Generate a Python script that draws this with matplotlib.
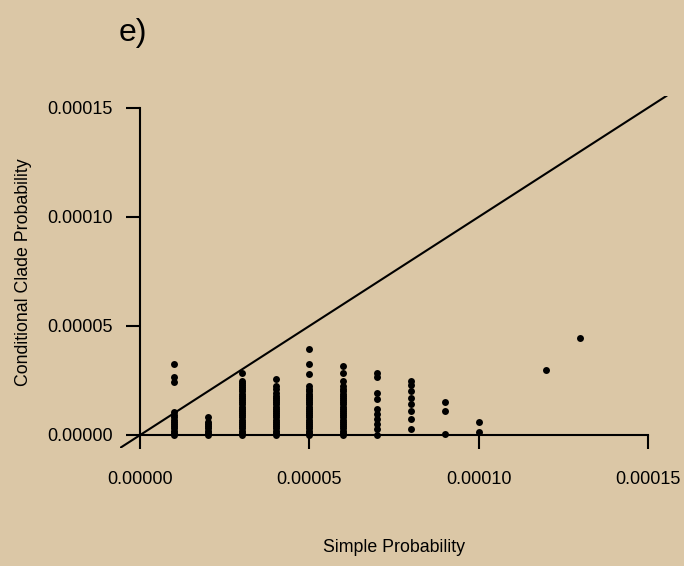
import matplotlib
matplotlib.use("Agg")
import matplotlib.pyplot as plt
from matplotlib.ticker import FixedLocator, FuncFormatter

plt.rcParams['font.family'] = ['Liberation Sans', 'DejaVu Sans']

# Data: simple probability (x) vs conditional clade probability (y), values in units of 1e-6
x_1 = [0,1,2,3,4,5,6,7,8,9,10.5,24.3,26.8,32.4]
x_2 = [0,1,2,3,4,5,6,8]
x_3 = [0,1,2,3,4,5,6,7,8,9,10,11,12,13,14,15,16,17,18,19,20,21,22,23,24,24.8,28.3]
x_4 = [0,1,2,3,4,5,6,7,8,9,10,11,12,13,14,15,16,17,18,19.4,21,22.5,25.6]
x_5 = [0,1,2,3,4,5,6,7,8,9,10,11,12,13,14,15,16,17,18,19,20,21,22.5,27.8,32.4,39.6]
x_6 = [0,1,2,3,4,5,6,7,8,9,10,11,12,13,14,15,16,17,18,19,20,21,22.5,24.8,28.6,31.7]
x_7 = [0,2.6,4.9,7.2,9.5,11.8,16.4,19.4,26.8,28.2]
x_8 = [2.6,7.2,11,14.4,17.1,20,22.8,24.8]
x_9 = [0.6,11,15.1]
x_10 = [1.5,6.1]
x_12 = [29.8]
x_13 = [44.6]

simple_prob = [1, 2, 3, 4, 5, 6, 7, 8, 9, 10, 12, 13]   # units of 1e-5
cond_prob = [x_1, x_2, x_3, x_4, x_5, x_6, x_7, x_8, x_9, x_10, x_12, x_13]

xticks = [0, 0.00005, 0.00010, 0.00015]
yticks = [0, 0.00005, 0.00010, 0.00015]

W, H = 684, 566
fig = plt.figure(figsize=(W/100, H/100), dpi=100)
bg = '#dbc7a6'
fig.patch.set_facecolor(bg)
ax = fig.add_axes([120/W, 1-448/H, 548/W, 352/H])
ax.set_facecolor('none')

xs, ys = [], []
for sp, vals in zip(simple_prob, cond_prob):
    for v in vals:
        xs.append(sp*1e-5)
        ys.append(v*1e-6)
ax.scatter(xs, ys, s=25, color='black', linewidths=0, zorder=3)

ax.axline((0, 0), slope=1, color='black', lw=1.5, zorder=2)

ax.set_xlim(-6e-6, 1.56e-4)
ax.set_ylim(-6e-6, 1.555e-4)

for s in ['top', 'right']:
    ax.spines[s].set_visible(False)
ax.spines['left'].set_position(('data', 0))
ax.spines['bottom'].set_position(('data', 0))
ax.spines['left'].set_bounds(0, 0.00015)
ax.spines['bottom'].set_bounds(0, 0.00015)
for s in ['left', 'bottom']:
    ax.spines[s].set_linewidth(1.5)

fmt = FuncFormatter(lambda v, p: f"{v:.5f}")
ax.xaxis.set_major_locator(FixedLocator(xticks))
ax.yaxis.set_major_locator(FixedLocator(yticks))
ax.xaxis.set_major_formatter(fmt)
ax.yaxis.set_major_formatter(fmt)
ax.tick_params(axis='both', direction='out', length=10, width=1.5, labelsize=13, colors='black')
ax.tick_params(axis='x', pad=16)
ax.tick_params(axis='y', pad=10)

fig.text(394/W, 1-548/H, 'Simple Probability', ha='center', va='center', fontsize=12.8)
fig.text(24/W, 1-272/H, 'Conditional Clade Probability', ha='center', va='center',
         rotation=90, fontsize=12.8)
fig.text(119/W, 1-33/H, 'e)', ha='left', va='center', fontsize=23)

fig.savefig('out.png', dpi=100, facecolor=bg)
